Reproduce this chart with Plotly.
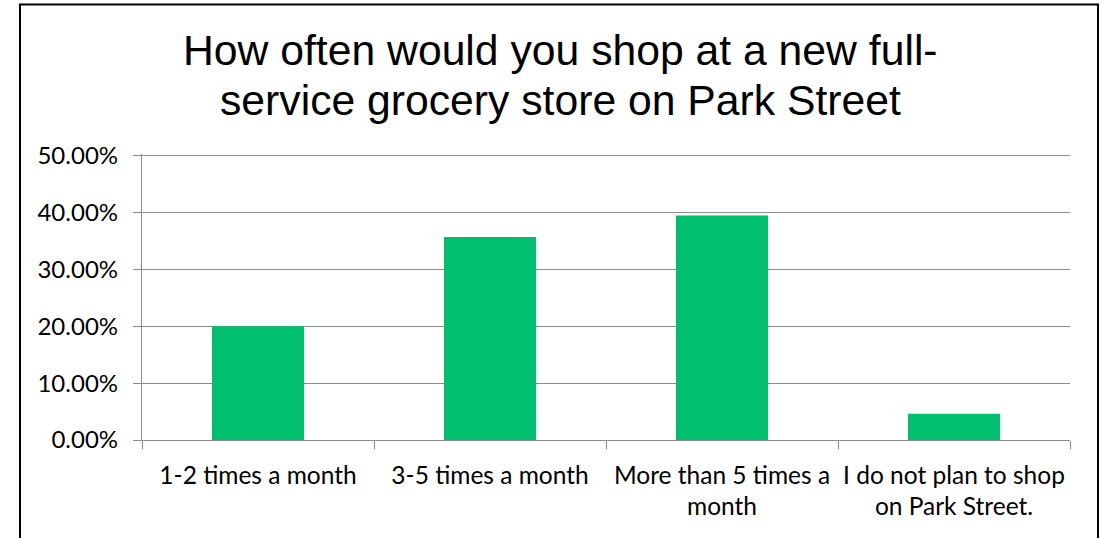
import plotly.graph_objects as go

categories = ["1-2 times a month", "3-5 times a month",
              "More than 5 times a<br>month", "I do not plan to shop<br>on Park Street."]
values = [0.200, 0.357, 0.395, 0.046]
title_lines = ["How often would you shop at a new full-",
               "service grocery store on Park Street"]
y_top = 0.5
y_pad = 0.003  # headroom so the 50% gridline is drawn

W, H = 1107, 538
plot_left, plot_right, y0_px, y50_px = 142, 1070, 440, 156
ph = (y0_px - y50_px) * (y_top + y_pad) / y_top
L, R, B = plot_left, W - plot_right, H - y0_px
T = H - B - ph
pw = W - L - R

def px_x(x):
    return (x - L) / pw

def px_y(y):
    return (H - B - y) / ph

fig = go.Figure()
fig.add_trace(go.Bar(
    x=categories, y=values, width=0.397,
    marker=dict(color="#00BF6F", line=dict(width=0)),
))

grid = "#8C8C8C"
tick_font = dict(family="Lato, 'Open Sans', sans-serif", size=24, color="#000000")
fig.update_layout(
    width=W, height=H,
    margin=dict(l=L, r=R, t=T, b=B),
    paper_bgcolor="white", plot_bgcolor="white",
    showlegend=False,
    font=dict(family="Lato, 'Open Sans', sans-serif", color="#000000", size=24),
    xaxis=dict(
        type="category", tickson="boundaries", ticks="outside", ticklen=8,
        tickcolor=grid, tickwidth=1.3, showline=True, linecolor=grid, linewidth=1.3,
        showgrid=False, tickfont=dict(tick_font, size=24.5), ticklabelstandoff=13,
    ),
    yaxis=dict(
        range=[0, y_top + y_pad], tickvals=[0, 0.1, 0.2, 0.3, 0.4, 0.5], tickformat=".2%",
        ticks="outside", ticklen=8,
        tickcolor=grid, tickwidth=1.3, showline=True, linecolor=grid, linewidth=1.3,
        showgrid=True, gridcolor=grid, gridwidth=1.3, zeroline=False,
        tickfont=tick_font, ticklabelstandoff=10,
    ),
    annotations=[
        dict(text=title_lines[0], xref="paper", yref="paper",
             x=px_x(560), y=px_y(50), xanchor="center", yanchor="middle",
             showarrow=False,
             font=dict(family="Liberation Sans, Arial, sans-serif", size=42.7, color="#000000")),
        dict(text=title_lines[1], xref="paper", yref="paper",
             x=px_x(560), y=px_y(100), xanchor="center", yanchor="middle",
             showarrow=False,
             font=dict(family="Liberation Sans, Arial, sans-serif", size=42.7, color="#000000")),
    ],
    shapes=[dict(
        type="rect", xref="paper", yref="paper",
        x0=px_x(20), x1=px_x(1098), y0=px_y(545), y1=px_y(5),
        line=dict(color="#000000", width=2), fillcolor="rgba(0,0,0,0)", layer="above",
    )],
)

fig.write_html("out.html", config={"displayModeBar": False},
               post_script="document.body.style.margin='0';document.body.style.overflow='hidden';")
